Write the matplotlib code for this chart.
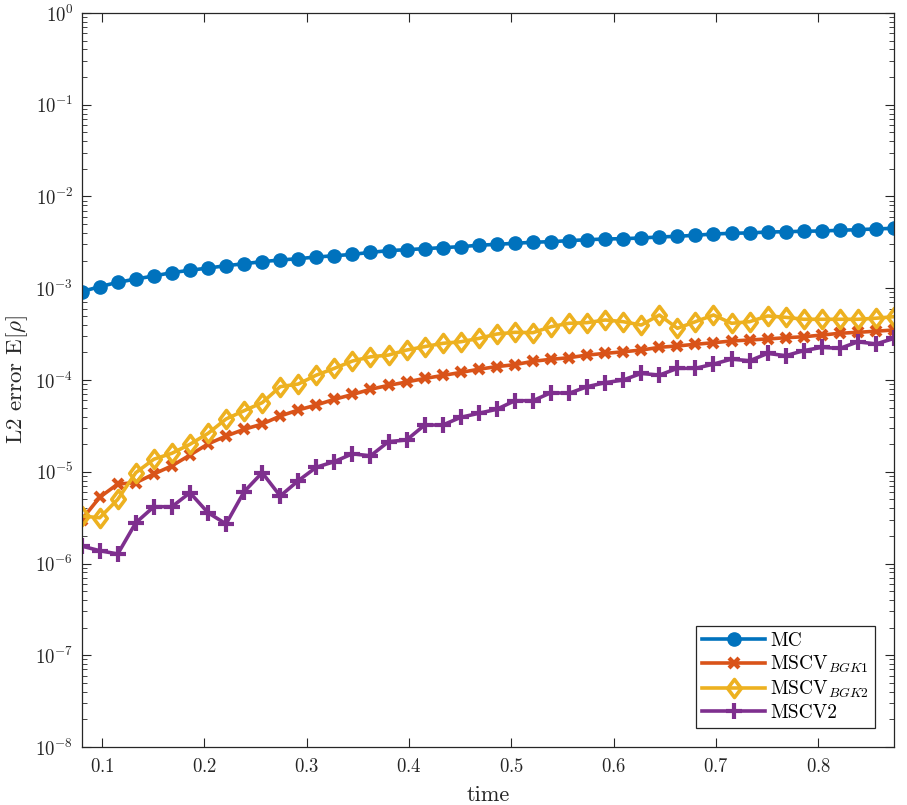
import numpy as np
import matplotlib
matplotlib.use("Agg")
import matplotlib.pyplot as plt
from matplotlib.path import Path

# ── Data ──────────────────────────────────────────────────────────────────────
t = np.linspace(0.08, 0.874, 46)

mc = [9.17e-4, 1.04e-3, 1.16e-3, 1.26e-3, 1.36e-3, 1.48e-3, 1.57e-3, 1.66e-3,
      1.76e-3, 1.85e-3, 1.95e-3, 2.03e-3, 2.10e-3, 2.19e-3, 2.26e-3, 2.34e-3,
      2.46e-3, 2.57e-3, 2.63e-3, 2.70e-3, 2.77e-3, 2.84e-3, 2.94e-3, 3.01e-3,
      3.09e-3, 3.17e-3, 3.22e-3, 3.30e-3, 3.38e-3, 3.44e-3, 3.47e-3, 3.53e-3,
      3.62e-3, 3.68e-3, 3.78e-3, 3.90e-3, 3.97e-3, 4.01e-3, 4.10e-3, 4.13e-3,
      4.18e-3, 4.21e-3, 4.28e-3, 4.35e-3, 4.43e-3, 4.50e-3]

bgk1 = [3.0e-6, 5.27e-6, 7.35e-6, 7.60e-6, 9.45e-6, 1.16e-5, 1.52e-5, 2.01e-5,
        2.45e-5, 2.90e-5, 3.31e-5, 4.05e-5, 4.71e-5, 5.34e-5, 6.16e-5, 6.95e-5,
        7.92e-5, 8.75e-5, 9.51e-5, 1.04e-4, 1.12e-4, 1.21e-4, 1.31e-4, 1.40e-4,
        1.47e-4, 1.60e-4, 1.68e-4, 1.75e-4, 1.87e-4, 1.95e-4, 2.03e-4, 2.12e-4,
        2.27e-4, 2.35e-4, 2.45e-4, 2.55e-4, 2.66e-4, 2.73e-4, 2.80e-4, 2.89e-4,
        2.96e-4, 3.09e-4, 3.23e-4, 3.31e-4, 3.40e-4, 3.51e-4]

bgk2 = [3.30e-6, 3.15e-6, 5.0e-6, 9.77e-6, 1.37e-5, 1.59e-5, 1.99e-5, 2.62e-5,
        3.76e-5, 4.63e-5, 5.66e-5, 8.46e-5, 9.04e-5, 1.13e-4, 1.34e-4, 1.61e-4,
        1.79e-4, 1.87e-4, 2.12e-4, 2.31e-4, 2.51e-4, 2.61e-4, 2.84e-4, 3.17e-4,
        3.31e-4, 3.28e-4, 3.81e-4, 4.15e-4, 4.22e-4, 4.51e-4, 4.32e-4, 3.97e-4,
        5.11e-4, 3.66e-4, 4.32e-4, 5.11e-4, 4.15e-4, 4.32e-4, 4.99e-4, 4.82e-4,
        4.59e-4, 4.59e-4, 4.59e-4, 4.59e-4, 4.71e-4, 4.90e-4]

mscv2 = [1.55e-6, 1.38e-6, 1.27e-6, 2.78e-6, 4.16e-6, 4.16e-6, 5.91e-6, 3.58e-6,
         2.70e-6, 6.06e-6, 9.77e-6, 5.44e-6, 7.99e-6, 1.12e-5, 1.29e-5, 1.57e-5,
         1.49e-5, 2.13e-5, 2.22e-5, 3.23e-5, 3.23e-5, 3.92e-5, 4.34e-5, 4.80e-5,
         5.95e-5, 5.95e-5, 7.28e-5, 7.16e-5, 8.46e-5, 9.35e-5, 1.00e-4, 1.18e-4,
         1.13e-4, 1.34e-4, 1.34e-4, 1.49e-4, 1.69e-4, 1.62e-4, 1.95e-4, 1.84e-4,
         2.09e-4, 2.27e-4, 2.21e-4, 2.61e-4, 2.47e-4, 2.84e-4]

# ── Style ─────────────────────────────────────────────────────────────────────
plt.rcParams["font.family"] = ["cmr10", "DejaVu Serif"]
plt.rcParams["mathtext.fontset"] = "cm"
plt.rcParams["axes.unicode_minus"] = False
plt.rcParams["axes.formatter.use_mathtext"] = True

BLUE = "#0072bd"
ORANGE = "#d95319"
YELLOW = "#edb120"
PURPLE = "#7e2f8e"
INK = "#262626"

# MATLAB-like diamond: a bit taller than wide
DIAMOND = Path([(0, 1), (0.75, 0), (0, -1), (-0.75, 0), (0, 1)],
               [Path.MOVETO, Path.LINETO, Path.LINETO, Path.LINETO, Path.CLOSEPOLY])

fig = plt.figure(figsize=(9.07, 8.05), dpi=100)
ax = fig.add_axes([0.090, 0.072, 0.8957, 0.9119])

lw = 2.6
ax.plot(t, mc, "-o", color=BLUE, lw=lw, ms=9.5, label="MC")
ax.plot(t, bgk1, "-x", color=ORANGE, lw=lw, ms=7, mew=3, label=r"MSCV$_{BGK1}$")
ax.plot(t, bgk2, "-", marker=DIAMOND, color=YELLOW, lw=lw, ms=13, mew=2.6,
        mfc="none", label=r"MSCV$_{BGK2}$")
ax.plot(t, mscv2, "-+", color=PURPLE, lw=lw, ms=11, mew=3, label="MSCV2")

ax.set_yscale("log")
ax.set_ylim(1e-8, 1e0)
ax.set_xlim(0.08, 0.874)
ax.set_xticks([0.1, 0.2, 0.3, 0.4, 0.5, 0.6, 0.7, 0.8])
ax.set_yticks([10.0 ** k for k in range(-8, 1)])

ax.tick_params(which="both", direction="in", top=True, right=True,
               labelsize=13.5, color=INK, labelcolor=INK)
ax.tick_params(which="major", length=6.5)
ax.tick_params(which="minor", length=3.5)
ax.tick_params(axis="x", pad=8)
ax.tick_params(axis="y", pad=6)
for s in ax.spines.values():
    s.set_color(INK)
    s.set_linewidth(0.9)

ax.set_xlabel("time", fontsize=16, color=INK, labelpad=7)
ax.set_ylabel(r"L2 error E[$\rho$]", fontsize=16.5, color=INK, labelpad=4)

leg = ax.legend(loc="lower right", fontsize=14, handlelength=3.25,
                handletextpad=0.25, fancybox=False, edgecolor=INK,
                framealpha=1, borderaxespad=1.0, labelspacing=0.2,
                borderpad=0.3)
leg.get_frame().set_linewidth(0.9)

fig.savefig("out.png", dpi=100)
